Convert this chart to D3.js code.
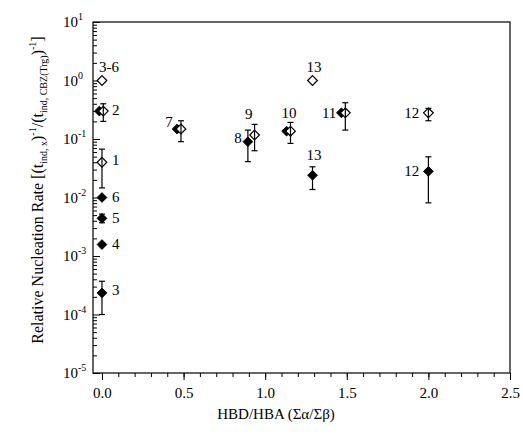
<!DOCTYPE html>
<html>
<head>
<meta charset="utf-8">
<script src="https://cdn.jsdelivr.net/npm/d3@7"></script>
</head>
<body style="margin:0; background:#fff">
<div id="chart"></div>
<script>
// open diamonds
const openX  = [0, 0.008, 0, 0.484, 0.935, 1.155, 1.29, 1.491, 2.0];
const openY  = [1.0, 0.30, 0.040, 0.148, 0.117, 0.136, 1.0, 0.28, 0.28];
const openLo = [null, 0.20, 0.0146, 0.090, 0.063, 0.084, null, 0.142, 0.205];
const openHi = [null, 0.40, 0.067, 0.205, 0.178, 0.192, null, 0.417, 0.334];

// filled diamonds
const solidX  = [-0.016, 0, 0, 0, 0, 0.460, 0.894, 1.131, 1.29, 1.467, 2.0];
const solidY  = [0.30, 2.34e-4, 1.57e-3, 4.4e-3, 0.010, 0.148, 0.090, 0.136, 0.024, 0.28, 0.028];
const solidLo = [null, 1.0e-4, null, 3.7e-3, null, null, 0.041, null, 0.0137, null, 0.0081];
const solidHi = [null, 3.7e-4, null, 5.2e-3, null, null, 0.142, null, 0.0335, null, 0.0496];

// point labels: text, x, y (data units), anchor
const labelText = ["3-6", "2", "1", "6", "5", "4", "3", "7", "9", "8", "10", "13", "11", "12", "13", "12"];
const labelX = [-0.018, 0.061, 0.061, 0.061, 0.061, 0.061, 0.061, 0.434, 0.899, 0.856, 1.146, 1.299, 1.436, 1.944, 1.299, 1.944];
const labelY = [1.395, 0.256, 0.0357, 0.00843, 0.00364, 0.001306, 2.13e-4, 0.1617, 0.219, 0.0851, 0.228, 1.411, 0.228, 0.228, 0.0436, 0.0232];
const labelAnchor = ["start", "start", "start", "start", "start", "start", "start", "end", "middle", "end", "middle", "middle", "end", "end", "middle", "end"];

const xTicks = [0, 0.5, 1.0, 1.5, 2.0, 2.5];
const yExps = [-5, -4, -3, -2, -1, 0, 1];

const width = 523, height = 435;
const margin = {left: 93, top: 22, right: 13, bottom: 62};
const FONT = '"Times New Roman"';

const svg = d3.select("#chart").append("svg")
  .attr("width", width)
  .attr("height", height)
  .style("font-family", FONT);

const x = d3.scaleLinear()
  .domain([-0.055, 2.5])
  .range([margin.left, width - margin.right]);

const y = d3.scaleLog()
  .domain([1e-5, 10])
  .range([height - margin.bottom, margin.top]);

// frame
svg.append("rect")
  .attr("x", margin.left)
  .attr("y", margin.top)
  .attr("width", width - margin.left - margin.right)
  .attr("height", height - margin.top - margin.bottom)
  .attr("fill", "none")
  .attr("stroke", "#000")
  .attr("stroke-width", 1.2);

// x axis
const xMinor = d3.range(0, 2.5001, 0.1);
const gx = svg.append("g").attr("transform", `translate(0,${height - margin.bottom})`);
gx.append("g")
  .call(d3.axisBottom(x).tickValues(xMinor).tickSize(4).tickFormat(""))
  .call(g => g.select(".domain").remove());
gx.append("g")
  .call(d3.axisBottom(x).tickValues(xTicks).tickSize(7).tickFormat(d3.format(".1f")))
  .call(g => g.select(".domain").remove())
  .call(g => g.selectAll("text")
    .attr("y", 14)
    .attr("font-size", 15)
    .attr("fill", "#000"));
gx.selectAll("line").attr("stroke", "#000");

// y axis (ticks inside)
const yMinor = [];
yExps.slice(0, -1).forEach(e => {
  for (let m = 2; m <= 9; m++) yMinor.push(m * Math.pow(10, e));
});
const gy = svg.append("g").attr("transform", `translate(${margin.left},0)`);
gy.append("g")
  .call(d3.axisRight(y).tickValues(yMinor).tickSize(4).tickFormat(""))
  .call(g => g.select(".domain").remove());
gy.append("g")
  .call(d3.axisRight(y).tickValues(yExps.map(e => Math.pow(10, e))).tickSize(7).tickFormat(""))
  .call(g => g.select(".domain").remove());
gy.selectAll("line").attr("stroke", "#000");

const yLab = svg.append("g").selectAll("text")
  .data(yExps)
  .join("text")
  .attr("x", margin.left - 30)
  .attr("y", d => y(Math.pow(10, d)) + 5)
  .attr("font-size", 15);
yLab.append("tspan").text("10");
yLab.append("tspan")
  .attr("dy", -7)
  .attr("font-size", 10)
  .text(d => d < 0 ? "-" + (-d) : d);

// markers
const diamond = d3.symbol().type(d3.symbolDiamond2).size(60);
const solidPts = solidX.map((d, i) => ({x: d, y: solidY[i], lo: solidLo[i], hi: solidHi[i]}));
const openPts = openX.map((d, i) => ({x: d, y: openY[i], lo: openLo[i], hi: openHi[i]}));

svg.append("g").selectAll("path")
  .data(solidPts)
  .join("path")
  .attr("transform", d => `translate(${x(d.x)},${y(d.y)})`)
  .attr("d", diamond)
  .attr("fill", "#000")
  .attr("stroke", "#000");

svg.append("g").selectAll("path")
  .data(openPts)
  .join("path")
  .attr("transform", d => `translate(${x(d.x)},${y(d.y)})`)
  .attr("d", diamond)
  .attr("fill", "#fff")
  .attr("stroke", "#000")
  .attr("stroke-width", 1.2);

// error bars on top
const bars = solidPts.concat(openPts).filter(d => d.lo != null);
const gb = svg.append("g").attr("stroke", "#000").attr("stroke-width", 1.2);
gb.selectAll(".v").data(bars).join("line")
  .attr("x1", d => x(d.x)).attr("x2", d => x(d.x))
  .attr("y1", d => y(d.lo)).attr("y2", d => y(d.hi));
gb.selectAll(".cl").data(bars).join("line")
  .attr("x1", d => x(d.x) - 3).attr("x2", d => x(d.x) + 3)
  .attr("y1", d => y(d.lo)).attr("y2", d => y(d.lo));
gb.selectAll(".ch").data(bars).join("line")
  .attr("x1", d => x(d.x) - 3).attr("x2", d => x(d.x) + 3)
  .attr("y1", d => y(d.hi)).attr("y2", d => y(d.hi));

// point labels
svg.append("g").selectAll("text")
  .data(labelText)
  .join("text")
  .attr("x", (d, i) => x(labelX[i]))
  .attr("y", (d, i) => y(labelY[i]))
  .attr("text-anchor", (d, i) => labelAnchor[i])
  .attr("font-size", 15)
  .text(d => d);

// axis titles
svg.append("text")
  .attr("x", 276)
  .attr("y", 419)
  .attr("text-anchor", "middle")
  .attr("font-size", 15)
  .text("HBD/HBA (Σα/Σβ)");

const yt = svg.append("text")
  .attr("transform", `translate(43,190) rotate(-90)`)
  .attr("text-anchor", "middle")
  .attr("font-size", 16);
yt.append("tspan").text("Relative Nucleation Rate [(t");
yt.append("tspan").attr("font-size", 10).attr("dy", 4).text("ind, x");
yt.append("tspan").attr("dy", -4).text(")");
yt.append("tspan").attr("font-size", 10).attr("dy", -7).text("-1");
yt.append("tspan").attr("dy", 7).text("/(t");
yt.append("tspan").attr("font-size", 10).attr("dy", 4).text("ind, CBZ(Trg)");
yt.append("tspan").attr("dy", -4).text(")");
yt.append("tspan").attr("font-size", 10).attr("dy", -7).text("-1");
yt.append("tspan").attr("dy", 7).text("]");

// every text in the serif face
svg.selectAll("g").attr("font-family", null);
svg.selectAll("text").style("font-family", FONT).style("fill", "#000");
</script>
</body>
</html>
